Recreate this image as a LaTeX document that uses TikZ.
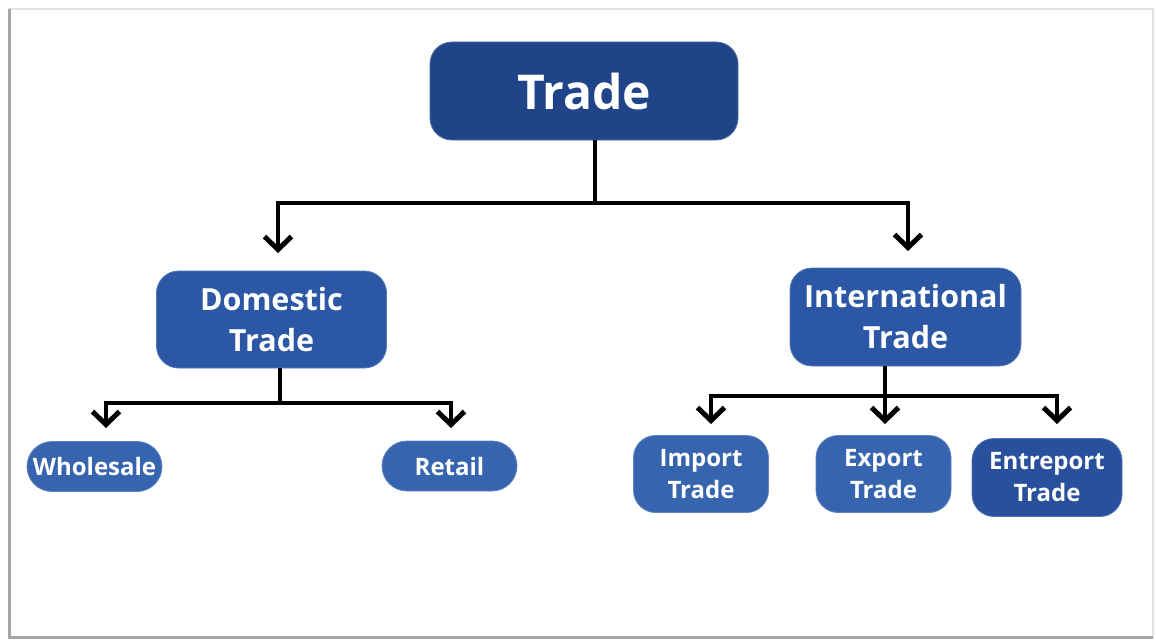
\documentclass[tikz,border=0pt]{standalone}
\usepackage{fontspec}
\setmainfont{Open Sans}
\usetikzlibrary{arrows.meta,calc}
\definecolor{topblue}{RGB}{31,68,136}
\definecolor{midblue}{RGB}{43,87,164}
\definecolor{leafblue}{RGB}{55,100,175}
\definecolor{leafdark}{RGB}{40,80,156}
\tikzset{
  box/.style={fill=#1, draw=#1!80!white, line width=0.8pt, text=white, align=center,
    font=\bfseries, inner sep=0pt},
  trbox/.style={box=topblue, rounded corners=22pt, minimum width=308pt, minimum height=98pt,
    font=\bfseries\fontsize{48}{52}\selectfont},
  catbox/.style={box=midblue, rounded corners=22pt, minimum width=230pt, minimum height=97pt,
    font=\bfseries\fontsize{30.5}{41}\selectfont},
  pill/.style={box=leafblue, rounded corners=25pt, minimum width=135pt, minimum height=50pt,
    font=\bfseries\fontsize{24}{32}\selectfont},
  leaf/.style={box=#1, rounded corners=22pt, minimum width=135pt, minimum height=77pt,
    font=\bfseries\fontsize{24}{32}\selectfont},
  conn/.style={line width=4pt, black},
  arr/.style={conn, -{Straight Barb[length=13pt,width=27pt,line width=5pt]}},
}
\begin{document}
\begin{tikzpicture}[x=1pt,y=-1pt]
\useasboundingbox (0,0) rectangle (1156,642);
% page frame with a soft shadow on the left and bottom
\draw[black!12, line width=1.2pt] (9,9) rectangle (1153,637);
\draw[black!35, line width=2.5pt] (9.5,9) -- (9.5,637.5) -- (1153,637.5);

% nodes
\node[trbox] (trade) at (584,91) {Trade};
\node[catbox] (dom) at (271.5,319.5) {Domestic\\Trade};
\node[catbox, minimum width=231pt, minimum height=98pt] (intl) at (905.5,317) {International\\Trade};
\node[pill] (whole) at (94.5,466.5) {Wholesale};
\node[pill] (retail) at (449.5,466) {Retail};
\node[leaf=leafblue] (imp) at (701,474) {Import\\Trade};
\node[leaf=leafblue] (exp) at (883.5,474) {Export\\Trade};
\node[leaf=leafdark, minimum width=150pt, minimum height=78pt] (ent) at (1047,477.5) {Entreport\\Trade};

% junction points and arrow ends
\coordinate (tj) at (595,203);
\coordinate (domTip) at (278,253);
\coordinate (intTip) at (908,251);
\coordinate (dj) at (280,403);
\coordinate (wTip) at (106,428);
\coordinate (rTip) at (451,428);
\coordinate (ij) at (885,396);
\coordinate (impTip) at (711,424);
\coordinate (expTip) at (885,424);
\coordinate (entTip) at (1057,424);

% connectors
\draw[conn] (tj |- trade.south) -- (tj);
\draw[arr] (tj) -| (domTip);
\draw[arr] (tj) -| (intTip);

\draw[conn] (dj |- dom.south) -- (dj);
\draw[arr] (dj) -| (wTip);
\draw[arr] (dj) -| (rTip);

\draw[conn] (ij |- intl.south) -- (ij);
\draw[arr] (ij) -| (impTip);
\draw[arr] (ij) -- (expTip);
\draw[arr] (ij) -| (entTip);
\end{tikzpicture}
\end{document}
